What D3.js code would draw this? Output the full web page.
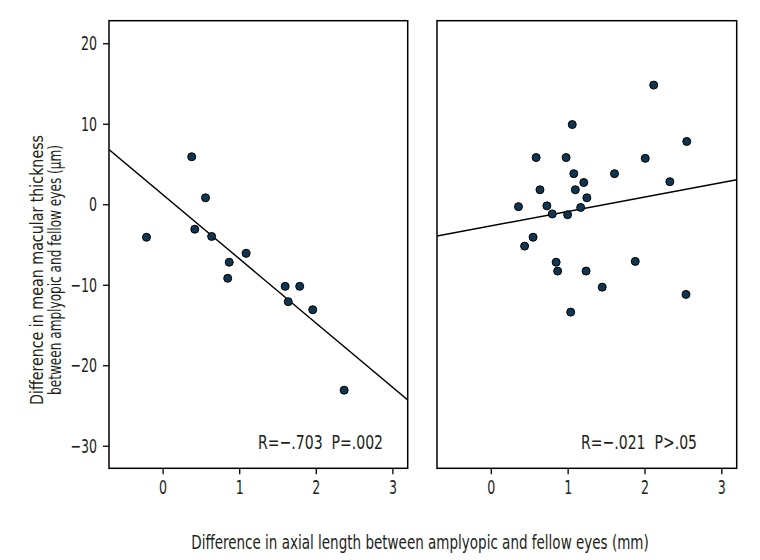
<!DOCTYPE html>
<html>
<head>
<meta charset="utf-8">
<script src="https://cdn.jsdelivr.net/npm/d3@7"></script>
<style>
  html, body { margin: 0; padding: 0; background: #ffffff; }
  svg text { font-family: "Liberation Sans Narrow", "DejaVu Sans Condensed", "Roboto", sans-serif; fill: #231f20; }
</style>
</head>
<body>
<svg id="chart" width="760" height="560"></svg>
<script>
// ---- Data ----
// Left panel: axial length difference (mm) vs macular thickness difference (µm)
const leftX = [-0.21, 0.38, 0.56, 0.42, 0.64, 1.09, 0.87, 0.85, 1.60, 1.79, 1.64, 1.96, 2.37];
const leftY = [-4.1, 5.9, 0.8, -3.1, -4.0, -6.1, -7.2, -9.2, -10.2, -10.2, -12.1, -13.1, -23.1];
// Right panel
const rightX = [2.12, 1.06, 2.55, 0.59, 0.98, 2.01, 1.08, 1.61, 1.21, 2.33, 0.64, 1.10, 1.25,
                0.36, 0.73, 1.17, 0.80, 1.00, 0.55, 0.44, 0.85, 0.87, 1.24, 1.88, 1.45, 2.54, 1.04];
const rightY = [14.8, 9.9, 7.8, 5.8, 5.8, 5.7, 3.8, 3.8, 2.7, 2.8, 1.8, 1.8, 0.8,
                -0.3, -0.2, -0.4, -1.2, -1.3, -4.1, -5.2, -7.2, -8.3, -8.3, -7.1, -10.3, -11.2, -13.4];
// Fitted regression lines: y values at the x-domain ends
const fitX = [-0.7, 3.2];
const leftFitY = [6.8, -24.3];
const rightFitY = [-3.95, 3.05];
// Annotations
const annotations = ["R=\u2212.703  P=.002", "R=\u2212.021  P>.05"];
// Axis ticks
const xTicks = [0, 1, 2, 3];
const yTicks = [-30, -20, -10, 0, 10, 20];
const xDomain = [-0.7, 3.2];
const yDomain = [-32.8, 22.8];
const xTitle = "Difference in axial length between amplyopic and fellow eyes (mm)";
const yTitle = ["Difference in mean macular thickness", "between amplyopic and fellow eyes (\u00b5m)"];

// ---- Layout ----
const svg = d3.select("#chart");
const plotTop = 20.7, plotBottom = 468.3;
const CONDENSE = 0.7;
function condense(sel, factor) {
  sel.each(function () {
    const w = this.getComputedTextLength();
    d3.select(this).attr("textLength", w * factor).attr("lengthAdjust", "spacingAndGlyphs");
  });
}
function fitWidth(sel, width) {
  sel.attr("textLength", width).attr("lengthAdjust", "spacingAndGlyphs");
}
const panels = [
  { left: 109, right: 407.7, xs: leftX, ys: leftY, fit: leftFitY, note: annotations[0], noteX: 258, noteW: 125, yAxis: true },
  { left: 437, right: 736.7, xs: rightX, ys: rightY, fit: rightFitY, note: annotations[1], noteX: 581, noteW: 116, yAxis: false }
];
const y = d3.scaleLinear().domain(yDomain).range([plotBottom, plotTop]);

panels.forEach((p, pi) => {
  const x = d3.scaleLinear().domain(xDomain).range([p.left, p.right]);
  const g = svg.append("g");
  const clipId = "clip" + pi;
  svg.append("clipPath").attr("id", clipId)
    .append("rect").attr("x", p.left).attr("y", plotTop).attr("width", p.right - p.left).attr("height", plotBottom - plotTop);

  // x axis
  const xa = g.append("g").attr("transform", `translate(0,${plotBottom})`)
    .call(d3.axisBottom(x).tickValues(xTicks).tickFormat(d3.format("d")).tickSizeOuter(0).tickSize(6).tickPadding(6));
  xa.select(".domain").remove();
  xa.selectAll("line").attr("stroke", "#000").attr("stroke-width", 1.3);
  xa.selectAll("text").attr("font-size", 20).attr("fill", "#231f20").attr("font-family", null);
  condense(xa.selectAll("text"), CONDENSE);

  if (p.yAxis) {
    const ya = g.append("g").attr("transform", `translate(${p.left},0)`)
      .call(d3.axisLeft(y).tickValues(yTicks).tickFormat(d => d < 0 ? "\u2212" + Math.abs(d) : d).tickSizeOuter(0).tickSize(6).tickPadding(6));
    ya.select(".domain").remove();
    ya.selectAll("line").attr("stroke", "#000").attr("stroke-width", 1.3);
    ya.selectAll("text").attr("font-size", 20).attr("fill", "#231f20").attr("font-family", null);
    condense(ya.selectAll("text"), CONDENSE);
  }

  // regression line
  g.append("line").attr("clip-path", `url(#${clipId})`)
    .attr("x1", x(fitX[0])).attr("y1", y(p.fit[0]))
    .attr("x2", x(fitX[1])).attr("y2", y(p.fit[1]))
    .attr("stroke", "#000").attr("stroke-width", 1.4);

  // points
  g.selectAll("circle.pt").data(p.xs.map((v, i) => [v, p.ys[i]])).enter()
    .append("circle").attr("class", "pt")
    .attr("cx", d => x(d[0])).attr("cy", d => y(d[1])).attr("r", 4)
    .attr("fill", "#0f3550").attr("stroke", "#000").attr("stroke-width", 1);

  // frame
  g.append("rect").attr("x", p.left).attr("y", plotTop)
    .attr("width", p.right - p.left).attr("height", plotBottom - plotTop)
    .attr("fill", "none").attr("stroke", "#000").attr("stroke-width", 1.5);

  // annotation
  const note = g.append("text").attr("x", p.noteX).attr("y", 449)
    .attr("font-size", 19.5).attr("xml:space", "preserve").style("white-space", "pre").text(p.note);
  fitWidth(note, p.noteW);
});

// axis titles (x title condensed with a horizontal scale transform)
const xt = svg.append("text").attr("x", 0).attr("y", 0).attr("text-anchor", "middle")
  .attr("font-size", 19).text(xTitle);
const xtW = xt.node().getComputedTextLength();
xt.attr("transform", `translate(420,549) scale(${458 / xtW},1)`);
const yWidths = [270, 250];
yTitle.forEach((t, i) => {
  const yt = svg.append("text").attr("transform", `translate(${43 + i * 18},270) rotate(-90)`)
    .attr("text-anchor", "middle").attr("font-size", 18.5).text(t);
  fitWidth(yt, yWidths[i]);
});
</script>
</body>
</html>
